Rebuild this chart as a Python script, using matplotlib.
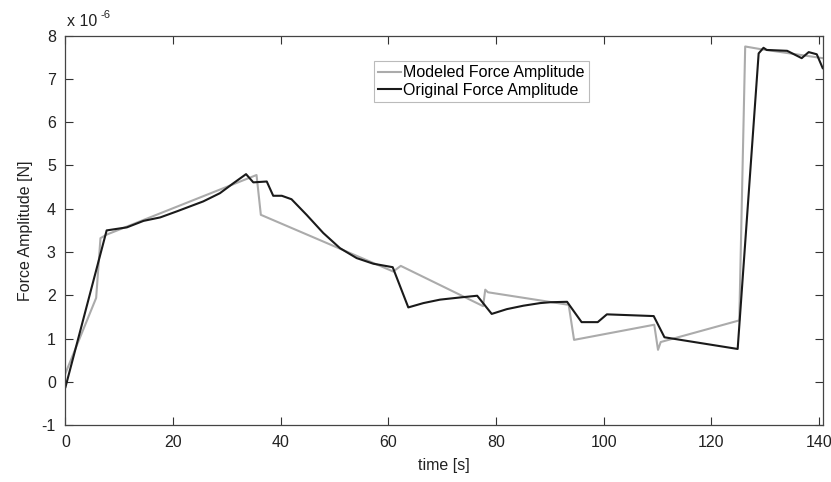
import numpy as np
from matplotlib import pyplot as plt

plt.rcParams["font.family"] = ["Liberation Sans", "DejaVu Sans"]
plt.rcParams["axes.unicode_minus"] = False

# modeled force amplitude (x 1e-6 N) vs time [s]
t_model = [0.0, 5.7, 6.5, 7.6, 35.5, 36.3, 60.9, 62.3, 77.6, 78.0, 78.5, 93.5, 94.5,
           109.4, 110.1, 110.6, 125.2, 126.3, 129.1, 140.7]
f_model = [0.2, 1.94, 3.32, 3.40, 4.78, 3.86, 2.55, 2.68, 1.75, 2.13, 2.07, 1.78, 0.97,
           1.32, 0.74, 0.92, 1.42, 7.75, 7.69, 7.48]

# original force amplitude (x 1e-6 N) vs time [s]
t_orig = [0.0, 7.65, 11.4, 14.5, 17.6, 20.7, 25.6, 28.7, 31.2, 33.55, 34.9, 37.4, 38.6,
          40.2, 42.0, 44.8, 47.9, 51.0, 54.1, 57.2, 60.8, 63.7, 66.5, 69.6, 73.3, 76.5,
          79.2, 82.0, 85.1, 88.2, 90.1, 93.2, 95.9, 98.9, 100.6, 109.3, 111.3, 114.8,
          124.9, 128.8, 129.7, 130.3, 134.1, 136.8, 138.1, 139.6, 140.7]
f_orig = [-0.12, 3.50, 3.57, 3.72, 3.80, 3.94, 4.17, 4.36, 4.59, 4.80, 4.61, 4.63, 4.30,
          4.30, 4.22, 3.86, 3.44, 3.09, 2.86, 2.73, 2.65, 1.72, 1.82, 1.90, 1.95, 1.99,
          1.57, 1.68, 1.76, 1.82, 1.84, 1.85, 1.38, 1.38, 1.56, 1.52, 1.03, 0.96,
          0.76, 7.59, 7.72, 7.67, 7.65, 7.48, 7.62, 7.57, 7.25]

FS = 11.5
fig = plt.figure(figsize=(8.31, 4.82), dpi=100)
ax = fig.add_axes([0.0788, 0.118, 0.9112, 0.808])

ax.plot(t_model, f_model, color="#ababab", lw=1.5, label="Modeled Force Amplitude")
ax.plot(t_orig, f_orig, color="#1a1a1a", lw=1.5, label="Original Force Amplitude")

ax.set_xlim(0, 140.7)
ax.set_ylim(-1, 8)
ax.set_xticks(np.arange(0, 141, 20))
ax.set_yticks(np.arange(-1, 9, 1))
ax.tick_params(direction="in", top=True, right=True, length=6, width=0.8,
               labelsize=FS, pad=7, colors="#333333", labelcolor="#222222")
for s in ax.spines.values():
    s.set_color("#444444")
    s.set_linewidth(0.9)

ax.set_xlabel("time [s]", fontsize=FS, color="#222222", labelpad=6)
ax.set_ylabel("Force Amplitude [N]", fontsize=FS, color="#222222", labelpad=6)
ax.annotate("x 10", xy=(0.0, 1.0), xycoords="axes fraction", xytext=(1, 5),
            textcoords="offset points", fontsize=FS, color="#222222", ha="left", va="bottom")
ax.annotate("-6", xy=(0.0, 1.0), xycoords="axes fraction", xytext=(25, 11),
            textcoords="offset points", fontsize=FS * 0.7, color="#222222", ha="left", va="bottom")

leg = ax.legend(loc="upper center", bbox_to_anchor=(0.549, 0.955), fontsize=FS,
                handlelength=1.45, handletextpad=0.15, borderpad=0.25,
                labelspacing=0.15, fancybox=False, framealpha=1)
leg.get_frame().set_edgecolor("#bbbbbb")
leg.get_frame().set_linewidth(0.8)

fig.savefig("out.png", dpi=100)
